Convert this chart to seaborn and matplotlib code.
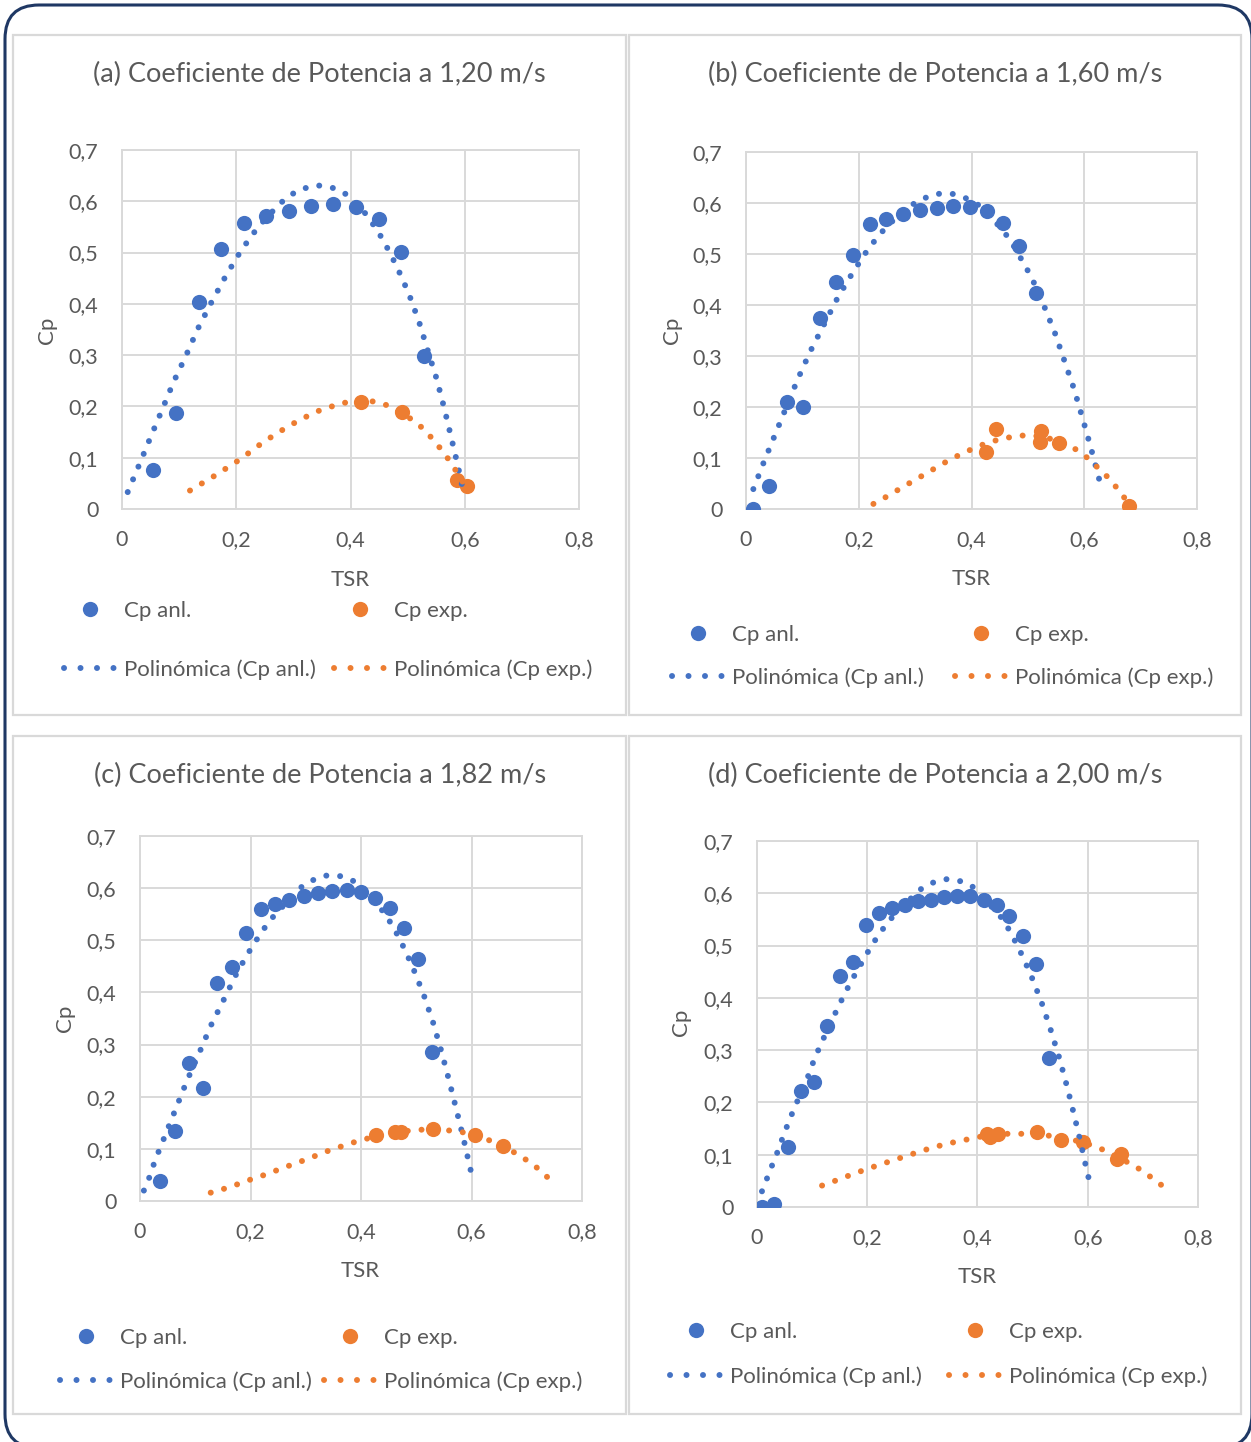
import matplotlib
matplotlib.use("Agg")
import matplotlib.pyplot as plt
import seaborn as sns
from matplotlib.lines import Line2D
from matplotlib.patches import Rectangle, FancyBboxPatch

# ---- datos ----
titles = ["(a) Coeficiente de Potencia a 1,20 m/s",
          "(b) Coeficiente de Potencia a 1,60 m/s",
          "(c) Coeficiente de Potencia a 1,82 m/s",
          "(d) Coeficiente de Potencia a 2,00 m/s"]

x_ticks = [0, 0.2, 0.4, 0.6, 0.8]
x_ticklabels = ["0", "0,2", "0,4", "0,6", "0,8"]
y_ticks = [0, 0.1, 0.2, 0.3, 0.4, 0.5, 0.6, 0.7]
y_ticklabels = ["0", "0,1", "0,2", "0,3", "0,4", "0,5", "0,6", "0,7"]

# (a) 1,20 m/s
anl_x_a = [0.054, 0.095, 0.134, 0.173, 0.213, 0.252, 0.292, 0.331, 0.370, 0.410, 0.450, 0.489, 0.528]
anl_y_a = [0.077, 0.188, 0.404, 0.506, 0.558, 0.571, 0.582, 0.591, 0.595, 0.588, 0.566, 0.501, 0.299]
exp_x_a = [0.419, 0.491, 0.587, 0.604]
exp_y_a = [0.209, 0.190, 0.057, 0.045]
pol_anl_x_a = [0.010, 0.030, 0.050, 0.070, 0.090, 0.112, 0.133, 0.157, 0.182, 0.209, 0.239, 0.275, 0.294,
               0.318, 0.343, 0.369, 0.392, 0.429, 0.457, 0.481, 0.502, 0.520, 0.535, 0.551, 0.564, 0.576,
               0.588, 0.599]
pol_anl_y_a = [0.033, 0.086, 0.140, 0.193, 0.247, 0.299, 0.352, 0.404, 0.455, 0.505, 0.551, 0.594, 0.612,
               0.625, 0.631, 0.626, 0.614, 0.573, 0.525, 0.473, 0.420, 0.365, 0.310, 0.253, 0.197, 0.141,
               0.084, 0.027]
pol_exp_x_a = [0.119, 0.164, 0.207, 0.248, 0.292, 0.338, 0.386, 0.438, 0.462, 0.507, 0.527, 0.545, 0.561,
               0.576, 0.597, 0.604]
pol_exp_y_a = [0.036, 0.066, 0.097, 0.131, 0.162, 0.189, 0.207, 0.210, 0.203, 0.175, 0.157, 0.135, 0.113,
               0.090, 0.052, 0.042]

# (b) 1,60 m/s
anl_x_b = [0.012, 0.041, 0.072, 0.101, 0.131, 0.160, 0.190, 0.220, 0.249, 0.279, 0.308, 0.338, 0.367,
           0.397, 0.427, 0.456, 0.485, 0.514]
anl_y_b = [0.000, 0.046, 0.209, 0.200, 0.375, 0.446, 0.499, 0.559, 0.569, 0.579, 0.586, 0.591, 0.594,
           0.592, 0.584, 0.560, 0.516, 0.423]
exp_x_b = [0.425, 0.443, 0.522, 0.524, 0.556, 0.680]
exp_y_b = [0.111, 0.156, 0.131, 0.152, 0.129, 0.005]
pol_anl_x_b = [0.013, 0.032, 0.052, 0.072, 0.092, 0.114, 0.138, 0.162, 0.189, 0.218, 0.250, 0.292, 0.315,
               0.340, 0.366, 0.391, 0.414, 0.440, 0.468, 0.494, 0.507, 0.528, 0.548, 0.565, 0.582, 0.597,
               0.611, 0.625, 0.631]
pol_anl_y_b = [0.039, 0.093, 0.147, 0.201, 0.255, 0.309, 0.361, 0.413, 0.463, 0.512, 0.555, 0.595, 0.609,
               0.618, 0.618, 0.609, 0.595, 0.566, 0.529, 0.479, 0.453, 0.400, 0.345, 0.290, 0.235, 0.178,
               0.123, 0.065, 0.037]
pol_exp_x_b = [0.226, 0.249, 0.272, 0.295, 0.317, 0.340, 0.362, 0.386, 0.410, 0.434, 0.460, 0.485, 0.510,
               0.536, 0.560, 0.585, 0.606, 0.625, 0.644, 0.661, 0.676]
pol_exp_y_b = [0.010, 0.024, 0.039, 0.054, 0.068, 0.083, 0.097, 0.110, 0.122, 0.132, 0.139, 0.144, 0.144,
               0.139, 0.130, 0.117, 0.100, 0.080, 0.060, 0.037, 0.015]

# (c) 1,82 m/s
anl_x_c = [0.037, 0.063, 0.088, 0.114, 0.140, 0.166, 0.192, 0.219, 0.244, 0.269, 0.296, 0.322, 0.348,
           0.374, 0.400, 0.426, 0.452, 0.477, 0.504, 0.529]
anl_y_c = [0.038, 0.135, 0.264, 0.216, 0.418, 0.448, 0.514, 0.560, 0.569, 0.577, 0.584, 0.590, 0.595,
           0.596, 0.592, 0.581, 0.561, 0.524, 0.465, 0.285]
exp_x_c = [0.427, 0.461, 0.473, 0.530, 0.607, 0.657]
exp_y_c = [0.126, 0.132, 0.133, 0.138, 0.127, 0.105]
pol_anl_x_c = [0.007, 0.018, 0.026, 0.036, 0.046, 0.056, 0.066, 0.076, 0.086, 0.108, 0.129, 0.153, 0.176,
               0.204, 0.234, 0.289, 0.312, 0.337, 0.363, 0.388, 0.444, 0.470, 0.493, 0.513, 0.530, 0.545,
               0.559, 0.572, 0.585, 0.597, 0.603]
pol_anl_y_c = [0.020, 0.048, 0.074, 0.101, 0.127, 0.154, 0.180, 0.207, 0.233, 0.286, 0.338, 0.389, 0.439,
               0.490, 0.537, 0.600, 0.615, 0.624, 0.623, 0.613, 0.551, 0.503, 0.450, 0.397, 0.344, 0.289,
               0.233, 0.178, 0.122, 0.066, 0.038]
pol_exp_x_c = [0.128, 0.154, 0.179, 0.205, 0.231, 0.255, 0.281, 0.307, 0.332, 0.357, 0.382, 0.408, 0.460,
               0.488, 0.513, 0.566, 0.594, 0.620, 0.644, 0.668, 0.692, 0.714, 0.734, 0.754]
pol_exp_y_c = [0.016, 0.024, 0.033, 0.043, 0.052, 0.062, 0.072, 0.082, 0.093, 0.102, 0.111, 0.119, 0.130,
               0.135, 0.137, 0.135, 0.130, 0.121, 0.112, 0.099, 0.084, 0.068, 0.049, 0.029]

# (d) 2,00 m/s
anl_x_d = [0.009, 0.031, 0.056, 0.080, 0.103, 0.127, 0.150, 0.174, 0.198, 0.221, 0.245, 0.269, 0.292,
           0.316, 0.339, 0.363, 0.387, 0.411, 0.435, 0.458, 0.483, 0.506, 0.530]
anl_y_d = [0.000, 0.006, 0.115, 0.222, 0.239, 0.346, 0.442, 0.468, 0.539, 0.562, 0.571, 0.578, 0.585,
           0.588, 0.593, 0.595, 0.594, 0.588, 0.578, 0.556, 0.518, 0.465, 0.285]
exp_x_d = [0.417, 0.423, 0.438, 0.508, 0.552, 0.591, 0.653, 0.660]
exp_y_d = [0.139, 0.133, 0.139, 0.143, 0.128, 0.125, 0.092, 0.102]
pol_anl_x_d = [0.009, 0.019, 0.029, 0.039, 0.048, 0.058, 0.068, 0.090, 0.099, 0.109, 0.120, 0.132, 0.143,
               0.155, 0.167, 0.180, 0.194, 0.207, 0.222, 0.238, 0.294, 0.318, 0.344, 0.370, 0.394, 0.448,
               0.474, 0.496, 0.516, 0.533, 0.549, 0.563, 0.576, 0.588, 0.600, 0.607]
pol_anl_y_d = [0.030, 0.057, 0.084, 0.110, 0.137, 0.164, 0.190, 0.242, 0.269, 0.295, 0.321, 0.347, 0.373,
               0.399, 0.424, 0.449, 0.474, 0.499, 0.522, 0.546, 0.606, 0.620, 0.627, 0.623, 0.611, 0.548,
               0.497, 0.446, 0.392, 0.338, 0.283, 0.228, 0.173, 0.119, 0.062, 0.034]
pol_exp_x_d = [0.118, 0.144, 0.169, 0.195, 0.220, 0.246, 0.272, 0.298, 0.323, 0.349, 0.376, 0.402, 0.454,
               0.482, 0.535, 0.575, 0.614, 0.637, 0.686, 0.707, 0.730, 0.751]
pol_exp_y_d = [0.041, 0.051, 0.061, 0.071, 0.080, 0.089, 0.098, 0.107, 0.115, 0.122, 0.128, 0.134, 0.140,
               0.140, 0.136, 0.128, 0.116, 0.105, 0.078, 0.063, 0.045, 0.027]

series = [
    (anl_x_a, anl_y_a, exp_x_a, exp_y_a, pol_anl_x_a, pol_anl_y_a, pol_exp_x_a, pol_exp_y_a),
    (anl_x_b, anl_y_b, exp_x_b, exp_y_b, pol_anl_x_b, pol_anl_y_b, pol_exp_x_b, pol_exp_y_b),
    (anl_x_c, anl_y_c, exp_x_c, exp_y_c, pol_anl_x_c, pol_anl_y_c, pol_exp_x_c, pol_exp_y_c),
    (anl_x_d, anl_y_d, exp_x_d, exp_y_d, pol_anl_x_d, pol_anl_y_d, pol_exp_x_d, pol_exp_y_d),
]

# ---- estilo ----
BLUE = "#4472C4"
ORANGE = "#ED7D31"
GRID = "#D9D9D9"
TEXT = "#595959"
NAVY = "#1F3864"
W, H = 1251, 1442

sns.set_style("white")
plt.rcParams["font.family"] = ["Lato", "DejaVu Sans"]
plt.rcParams["text.color"] = TEXT

DOTS = (0, (0.01, 2.3))
LEG_DOTS = (0, (0.01, 2.75))
LEG_FS = 16

# posiciones en pixeles: caja del panel, ejes, titulo, TSR, Cp, leyenda
layout = [
    dict(box=(13, 35, 626, 715), ax=(122, 150, 579, 509), title=(319, 74), xlab=(350, 580), ylab=(47, 330),
         leg1=64, leg2=334, rows=(609, 669)),
    dict(box=(629, 35, 1241, 715), ax=(746, 152, 1197, 509), title=(935, 74), xlab=(971, 579), ylab=(672, 330),
         leg1=672, leg2=955, rows=(633, 677)),
    dict(box=(13, 736, 626, 1414), ax=(140, 836, 582, 1201), title=(320, 775), xlab=(360, 1271), ylab=(65, 1018),
         leg1=60, leg2=324, rows=(1336, 1381)),
    dict(box=(629, 736, 1241, 1414), ax=(757, 841, 1198, 1207), title=(935, 775), xlab=(977, 1277), ylab=(681, 1022),
         leg1=670, leg2=949, rows=(1330, 1376)),
]

fig = plt.figure(figsize=(W / 100, H / 100), dpi=100)

# marco exterior redondeado
fig.patches.append(FancyBboxPatch((5, -6), 1247, 1443, boxstyle="round,pad=0,rounding_size=34",
                                  transform=None, fill=False, edgecolor=NAVY, linewidth=2.2, figure=fig))

for (ax_x, ax_y, ex_x, ex_y, pa_x, pa_y, pe_x, pe_y), title, lay in zip(series, titles, layout):
    bx0, by0, bx1, by1 = lay["box"]
    fig.patches.append(Rectangle((bx0 / W, 1 - by1 / H), (bx1 - bx0) / W, (by1 - by0) / H,
                                 transform=fig.transFigure, fill=False, edgecolor=GRID,
                                 linewidth=1.6, figure=fig))

    l, t, r, b = lay["ax"]
    ax = fig.add_axes([l / W, 1 - b / H, (r - l) / W, (b - t) / H])

    sns.scatterplot(x=ax_x, y=ax_y, ax=ax, s=120, color=BLUE, linewidth=0, zorder=3)
    sns.scatterplot(x=ex_x, y=ex_y, ax=ax, s=120, color=ORANGE, linewidth=0, zorder=3)
    sns.lineplot(x=pa_x, y=pa_y, ax=ax, sort=False, estimator=None, color=BLUE, lw=4.3,
                 linestyle=DOTS, dash_capstyle="round", zorder=4)
    sns.lineplot(x=pe_x, y=pe_y, ax=ax, sort=False, estimator=None, color=ORANGE, lw=4.3,
                 linestyle=DOTS, dash_capstyle="round", zorder=4)

    ax.set_xlim(0, 0.8)
    ax.set_ylim(0, 0.7)
    ax.set_xticks(x_ticks)
    ax.set_xticklabels(x_ticklabels)
    ax.set_yticks(y_ticks)
    ax.set_yticklabels(y_ticklabels)
    ax.tick_params(length=0, labelsize=15.5, labelcolor=TEXT, pad=15)
    ax.tick_params(axis="y", pad=17)
    ax.grid(True, color=GRID, linewidth=1.4)
    for sp in ax.spines.values():
        sp.set_color(GRID)
        sp.set_linewidth(1.4)
    ax.set_axisbelow(True)

    fig.text(lay["title"][0] / W, 1 - lay["title"][1] / H, title, ha="center", va="center",
             fontsize=19.5, color=TEXT)
    fig.text(lay["xlab"][0] / W, 1 - lay["xlab"][1] / H, "TSR", ha="center", va="center",
             fontsize=16, color=TEXT)
    fig.text(lay["ylab"][0] / W, 1 - lay["ylab"][1] / H, "Cp", ha="center", va="center",
             fontsize=16, color=TEXT, rotation=90)

    # leyenda en dos columnas
    r1, r2 = lay["rows"]
    ymid = 1 - ((r1 + r2) / 2 + 1.5) / H
    gap = (r2 - r1) / 100 * 72 / LEG_FS
    for col_x, colr, name in [(lay["leg1"], BLUE, "Cp anl."), (lay["leg2"], ORANGE, "Cp exp.")]:
        handles = [Line2D([], [], marker="o", ls="none", markersize=11, color=colr, mec="none"),
                   Line2D([], [], color=colr, lw=4.3, linestyle=LEG_DOTS, dash_capstyle="round")]
        fig.legend(handles, [name, "Polinómica (%s)" % name], loc="center left",
                   bbox_to_anchor=(col_x / W, ymid), frameon=False, fontsize=LEG_FS,
                   handlelength=2.35, handletextpad=0.36, borderpad=0, borderaxespad=0,
                   labelspacing=gap - 0.95, labelcolor=TEXT)

fig.savefig("out.png", dpi=100)
